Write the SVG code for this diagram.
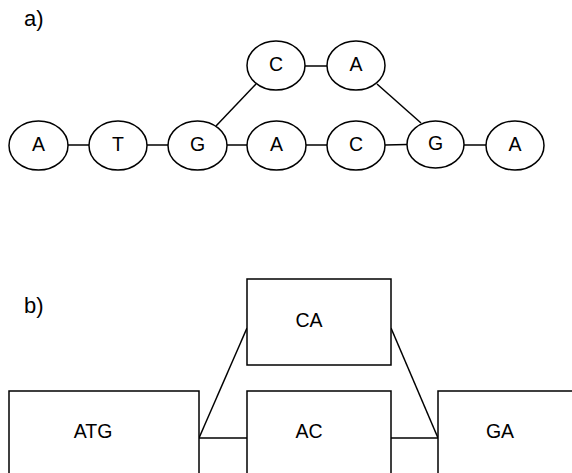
<svg xmlns="http://www.w3.org/2000/svg" width="572" height="473" viewBox="0 0 572 473">
  <style>
    .node { fill: #fff; stroke: #000; stroke-width: 1.5; }
    .edge { stroke: #000; stroke-width: 1.5; fill: none; }
    .lbl { font-family: "Liberation Sans", Arial, sans-serif; font-size: 19.5px; fill: #000; text-anchor: middle; }
    .tag { font-family: "Liberation Sans", Arial, sans-serif; font-size: 22px; fill: #000; }
  </style>
  <rect width="572" height="473" fill="#fff"/>

  <text class="tag" x="24" y="26">a)</text>
  <text class="tag" x="24" y="313">b)</text>

  <!-- connectors -->
  <g id="edges">
    <line class="edge" x1="68" y1="145" x2="89" y2="145"/>
    <line class="edge" x1="147" y1="145" x2="168" y2="145"/>
    <line class="edge" x1="227" y1="145" x2="247" y2="145"/>
    <line class="edge" x1="306" y1="145" x2="327" y2="145"/>
    <line class="edge" x1="385" y1="145" x2="407" y2="144.5"/>
    <line class="edge" x1="464" y1="145" x2="486" y2="145"/>
    <line class="edge" x1="305" y1="66" x2="327" y2="66"/>
    <line class="edge" x1="216" y1="126" x2="256" y2="84"/>
    <line class="edge" x1="377" y1="84" x2="421" y2="123"/>

    <line class="edge" x1="199" y1="438" x2="247" y2="438"/>
    <line class="edge" x1="391" y1="438" x2="438" y2="438"/>
    <line class="edge" x1="199" y1="438" x2="247" y2="328"/>
    <line class="edge" x1="391" y1="328" x2="438" y2="438"/>
  </g>

  <!-- graph a) -->
  <g id="a-A1"><ellipse class="node" cx="38.5" cy="145.5" rx="29.5" ry="24.5"/><text class="lbl" x="38.5" y="151">A</text></g>
  <g id="a-T"><ellipse class="node" cx="118" cy="145.5" rx="29" ry="24.5"/><text class="lbl" x="118" y="151">T</text></g>
  <g id="a-G1"><ellipse class="node" cx="197.5" cy="145.5" rx="29.5" ry="24.5"/><text class="lbl" x="197.5" y="151">G</text></g>
  <g id="a-A2"><ellipse class="node" cx="276.5" cy="145.5" rx="29.5" ry="24.5"/><text class="lbl" x="276.5" y="151">A</text></g>
  <g id="a-C2"><ellipse class="node" cx="356" cy="145.5" rx="29" ry="24.5"/><text class="lbl" x="356" y="151">C</text></g>
  <g id="a-G2"><ellipse class="node" cx="435.5" cy="144.5" rx="28.5" ry="23.5"/><text class="lbl" x="435.5" y="149.5">G</text></g>
  <g id="a-A3"><ellipse class="node" cx="515" cy="145.5" rx="29" ry="24.5"/><text class="lbl" x="515" y="151">A</text></g>
  <g id="a-C1"><ellipse class="node" cx="276" cy="65.5" rx="29" ry="24.5"/><text class="lbl" x="276" y="71">C</text></g>
  <g id="a-A4"><ellipse class="node" cx="356" cy="65.5" rx="29" ry="24.5"/><text class="lbl" x="356" y="71">A</text></g>

  <!-- graph b) -->
  <g id="b-ATG"><rect class="node" x="9" y="391" width="190" height="100"/><text class="lbl" x="93" y="437.5">ATG</text></g>
  <g id="b-CA"><rect class="node" x="247" y="279" width="144" height="86"/><text class="lbl" x="309" y="326.5">CA</text></g>
  <g id="b-AC"><rect class="node" x="247" y="391" width="144" height="100"/><text class="lbl" x="309" y="437.5">AC</text></g>
  <g id="b-GA"><rect class="node" x="438" y="391" width="150" height="100"/><text class="lbl" x="500" y="437.5">GA</text></g>
</svg>
